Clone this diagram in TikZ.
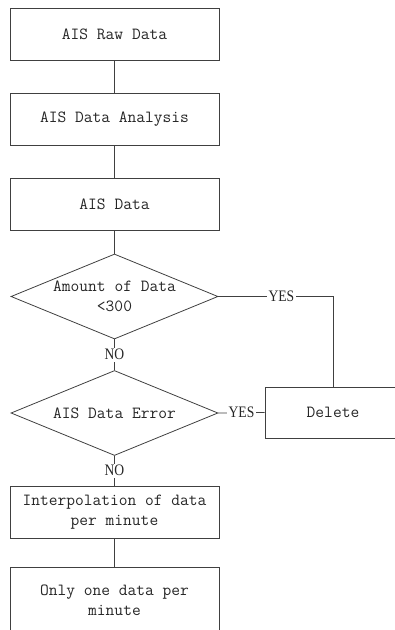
\documentclass[tikz,border=0pt]{standalone}
\usepackage{fontspec}
\setmainfont{Liberation Serif}
\newfontfamily\answerfont[FakeStretch=0.85]{Liberation Serif}
\usetikzlibrary{shapes.geometric}
\tikzset{
  stepbox/.style={draw=black!75,line width=0.8pt,rectangle,minimum width=209pt,minimum height=52pt,align=center,text=black!85,font=\ttfamily\fontsize{17}{19.5}\selectfont},
  test/.style={draw=black!75,line width=0.8pt,diamond,aspect=2.43,inner sep=0pt,minimum width=207pt,minimum height=85pt,align=center,text=black!85,font=\ttfamily\fontsize{17}{19.5}\selectfont},
  answer/.style={fill=white,inner sep=1.5pt,text=black!85,font=\answerfont\fontsize{16}{18}\selectfont},
  link/.style={draw=black!75,line width=0.8pt}
}
\begin{document}
\begin{tikzpicture}[x=1pt,y=-1pt]
\useasboundingbox (0,0) rectangle (395,630);

\node[stepbox] (raw) at (114.5,34) {AIS Raw Data};
\node[stepbox] (analysis) at (114.5,119) {AIS Data Analysis};
\node[stepbox] (data) at (114.5,204) {AIS Data};
\node[test] (amount) at (114.5,296.5) {Amount of Data\\<300};
\node[test] (error) at (114.5,413) {AIS Data Error};
\node[stepbox] (interp) at (114.5,512) {Interpolation of data\\per minute};
\node[stepbox,minimum height=66pt] (once) at (114.5,600) {Only one data per\\minute};
\node[stepbox,minimum width=136pt,minimum height=51pt] (delete) at (333,412.5) {Delete};

\foreach \a/\b in {raw/analysis, analysis/data, data/amount, interp/once}
{
\draw[link] (\a) -- (\b);
}
\draw[link] (amount) -- node[answer]{NO} (error);
\draw[link] (error) -- node[answer]{NO} (interp);
\draw[link] (amount.east) -- node[answer,pos=0.55]{YES} (amount.east -| delete.north) -- (delete.north);
\draw[link] (error.east) -- node[answer]{YES} (delete.west);

\end{tikzpicture}
\end{document}
